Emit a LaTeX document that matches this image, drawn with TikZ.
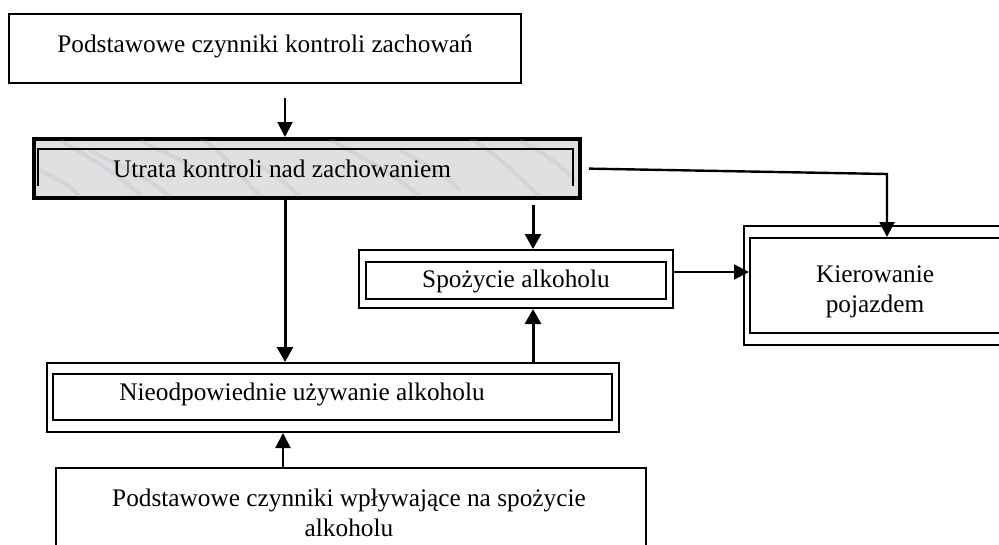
\documentclass[tikz,border=0pt]{standalone}
\usepackage{fontspec}
\setmainfont{Liberation Serif}
\usetikzlibrary{arrows.meta}
\definecolor{marble}{RGB}{222,224,226}
\definecolor{streak}{RGB}{160,162,166}
\begin{document}
\begin{tikzpicture}[x=1pt,y=-1pt,
  box/.style={draw, line width=2pt, inner sep=0pt, anchor=north west},
  lbl/.style={inner sep=0pt, font=\fontsize{25.3}{30}\selectfont},
  conn/.style={line width=2pt, -{Triangle[length=15pt,width=15pt]}},
  bconn/.style={line width=3pt, -{Triangle[length=15pt,width=16pt]}}]
\clip (0,0) rectangle (999,544);
\fill[white] (0,0) rectangle (999,544);
% boxes
\node[box, minimum width=512, minimum height=69] (top) at (8,13) {};
\node[box, line width=4pt, fill=marble, minimum width=546, minimum height=59] (utr) at (32,137) {};
\begin{scope}
\clip (34,139) rectangle (578,196);
\foreach \a/\b/\c/\d in {60/140/140/195, 200/138/260/196, 330/139/420/197, 470/138/540/197, 90/150/170/197, 400/150/460/190, 520/140/575/180, 250/160/300/197, 40/170/80/197, 140/140/200/175}
  \draw[streak, line width=4pt, opacity=0.18] (\a,\b) .. controls (\a+25,\b+15) and (\c-20,\d-20) .. (\c,\d);
\end{scope}
\draw[line width=2pt] (38,186) -- (38,149) -- (573,149) -- (573,186);
\node[box, minimum width=314, minimum height=58] (spo) at (358,249) {};
\node[box, minimum width=300, minimum height=37] (sin) at (365,261) {};
\node[box, minimum width=270, minimum height=119] (kier) at (743,225) {};
\node[box, minimum width=260, minimum height=95] (kin) at (749,237) {};
\node[box, minimum width=572, minimum height=69] (nie) at (46,362) {};
\node[box, minimum width=559, minimum height=46] (nin) at (52,373) {};
\node[box, minimum width=590, minimum height=100] (bot) at (55,467) {};
% texts
\node[lbl] (ttop) at (265,46) {Podstawowe czynniki kontroli zachowań};
\node[lbl] (tutr) at (282,169) {Utrata kontroli nad zachowaniem};
\node[lbl] (tspo) at (516,281) {Spożycie alkoholu};
\node[lbl, align=center] (tkier) at (875,292) {Kierowanie\\pojazdem};
\node[lbl] (tnie) at (302,394) {Nieodpowiednie używanie alkoholu};
\node[lbl, align=center] (tbot) at (349,513) {Podstawowe czynniki wpływające na spożycie\\alkoholu};
% connectors
\coordinate (s1) at (285,98);
\draw[conn] (s1) -- (s1 |- utr.north);
\coordinate (cx) at (285,0);
\draw[bconn] (utr.south -| cx) -- (nie.north -| cx);
\coordinate (s2) at (533,205);
\draw[bconn] (s2) -- (s2 |- spo.north);
\coordinate (cx2) at (533,0);
\draw[bconn] (nie.north -| cx2) -- (spo.south -| cx2);
\coordinate (ya) at (0,272);
\draw[conn] (spo.east |- ya) -- (kin.west |- ya);
\coordinate (k1) at (887,174);
\draw[conn, line width=2.4pt, shorten <=7pt] (utr.east) -- (k1) -- (k1 |- kin.north);
\coordinate (cx3) at (283,0);
\draw[conn] (bot.north -| cx3) -- (nie.south -| cx3);
\end{tikzpicture}
\end{document}
